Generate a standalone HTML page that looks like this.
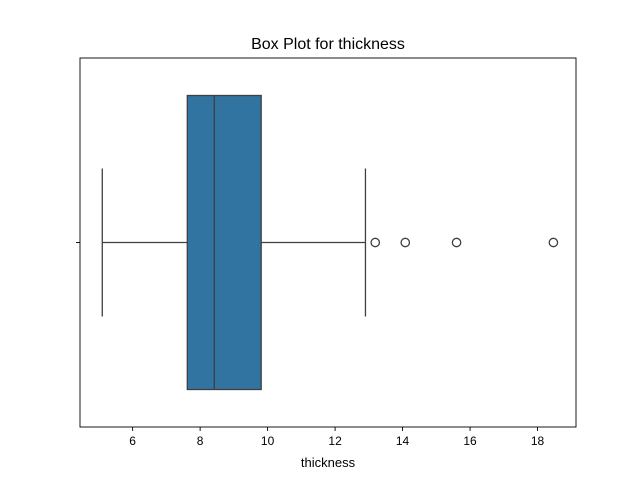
<!DOCTYPE html>
<html><head><meta charset="utf-8"><style>
body{margin:0;background:#fff;}
svg{display:block;font-family:"Liberation Sans","DejaVu Sans",sans-serif;}
</style></head><body>
<svg id="chart" width="640" height="480"></svg>
<script>
const xTicks=[6,8,10,12,14,16,18];
const whiskerLow=[5.1];
const quartiles=[7.62,8.42,9.81];
const whiskerHigh=[12.9];
const outliers=[13.19,14.08,15.6,18.47];
const xDomain=[4.44,19.14];

const L=80,R=576,T=58,B=427;
const NS="http://www.w3.org/2000/svg";
const svg=document.getElementById('chart');
function x(v){return L+(v-xDomain[0])/(xDomain[1]-xDomain[0])*(R-L);}
function mk(tag,attrs,parent){const e=document.createElementNS(NS,tag);for(const k in attrs)e.setAttribute(k,attrs[k]);(parent||svg).appendChild(e);return e;}
const cy=(T+B)/2, boxH=294, capH=148;

let t=mk('text',{x:(L+R)/2,y:49,'text-anchor':'middle','font-size':16,fill:'#000'});
t.textContent='Box Plot for thickness';



let w1=mk('line',{x1:x(whiskerLow[0]),x2:x(quartiles[0]),y1:cy,y2:cy,stroke:'#3f3f3f','stroke-width':1.3});


let w2=mk('line',{x1:x(quartiles[2]),x2:x(whiskerHigh[0]),y1:cy,y2:cy,stroke:'#3f3f3f','stroke-width':1.3});


let c1=mk('line',{x1:x(whiskerLow[0]),x2:x(whiskerLow[0]),y1:cy-capH/2,y2:cy+capH/2,stroke:'#3f3f3f','stroke-width':1.3});


let c2=mk('line',{x1:x(whiskerHigh[0]),x2:x(whiskerHigh[0]),y1:cy-capH/2,y2:cy+capH/2,stroke:'#3f3f3f','stroke-width':1.3});



let box=mk('rect',{x:x(quartiles[0]),y:cy-boxH/2,width:x(quartiles[2])-x(quartiles[0]),height:boxH,fill:'#3274a1',stroke:'#3f3f3f','stroke-width':1.3});


let med=mk('line',{x1:x(quartiles[1]),x2:x(quartiles[1]),y1:cy-boxH/2,y2:cy+boxH/2,stroke:'#3f3f3f','stroke-width':1.3});



outliers.forEach(v=>{
  const o=mk('circle',{cx:x(v),cy:cy,r:4.2,fill:'none',stroke:'#3f3f3f','stroke-width':1.3});
  
  
});

let frame=mk('rect',{x:L,y:T,width:R-L,height:B-T,fill:'none',stroke:'#000','stroke-width':0.9});



let yt=mk('line',{x1:L-4,x2:L,y1:cy,y2:cy,stroke:'#000','stroke-width':0.9});



xTicks.forEach(v=>{
  const g=mk('line',{x1:x(v),x2:x(v),y1:B,y2:B+4,stroke:'#000','stroke-width':0.9});
  
  
  const l=mk('text',{x:x(v),y:B+18,'text-anchor':'middle','font-size':12,fill:'#000'});
  l.textContent=v;
  
  
});

let xl=mk('text',{x:(L+R)/2,y:467,'text-anchor':'middle','font-size':13,fill:'#000'});
xl.textContent='thickness';


</script>
</body></html>
